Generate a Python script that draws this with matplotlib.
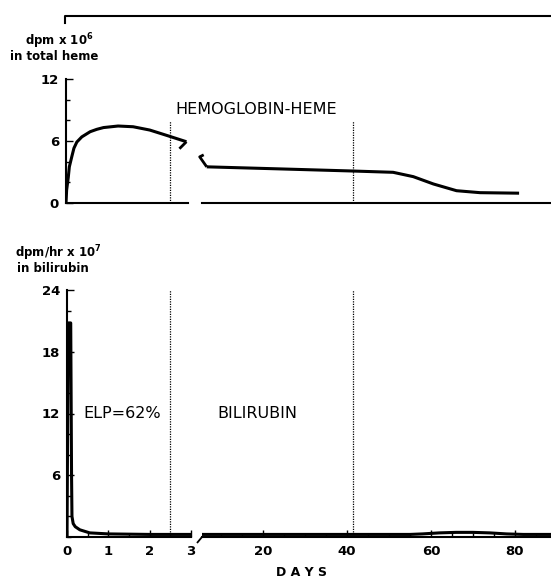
import matplotlib
matplotlib.use("Agg")
import matplotlib.pyplot as plt
from matplotlib.lines import Line2D
from matplotlib.ticker import MultipleLocator, FixedLocator

# hemoglobin-heme, dpm x 10^6 (early days 0-3, late days 5-88)
heme_days_early = [0, 0.015, 0.055, 0.08, 0.14, 0.19, 0.26, 0.38, 0.58, 0.74, 0.9,
                   1.25, 1.61, 2.01, 2.45, 2.89]
heme_early = [0, 1.25, 2.5, 3.5, 4.5, 5.3, 5.9, 6.4, 6.9, 7.13, 7.3,
              7.45, 7.38, 7.06, 6.5, 5.93]
heme_days_late = [6.6, 24, 41, 51, 55.8, 60.6, 66.1, 71.7, 81]
heme_late = [3.5, 3.3, 3.1, 2.97, 2.55, 1.84, 1.19, 1.0, 0.95]

# bilirubin, dpm/hr x 10^7
bili_days_early = [0, 0.03, 0.09, 0.11, 0.12, 0.15, 0.2, 0.31, 0.55, 1.0, 2.0, 3.0]
bili_early = [0, 20.8, 20.8, 6.0, 2.0, 1.3, 1.0, 0.7, 0.4, 0.3, 0.25, 0.25]
bili_days_late = [5.5, 20, 40, 55, 58, 62, 66, 70, 74, 78, 82, 88.6]
bili_late = [0.25, 0.25, 0.25, 0.25, 0.3, 0.4, 0.45, 0.45, 0.4, 0.3, 0.25, 0.25]

phase_days = [2.5, 41.5]

W, H = 551, 578
fig = plt.figure(figsize=(W / 100, H / 100), dpi=100)


def rect(x0, y0, x1, y1):
    # pixel box -> figure fraction
    return [x0 / W, 1 - y1 / H, (x1 - x0) / W, (y1 - y0) / H]


def fig_pt(px, py):
    return px / W, 1 - py / H


ax_tl = fig.add_axes(rect(66, 79, 191, 203))
ax_tr = fig.add_axes(rect(202, 79, 551, 203))
ax_bl = fig.add_axes(rect(67, 290, 191, 537))
ax_br = fig.add_axes(rect(202, 290, 551, 537))

lw_axis = 1.5
lw_curve = 2.2

for ax in (ax_tl, ax_tr, ax_bl, ax_br):
    ax.set_facecolor("none")
    ax.spines["top"].set_visible(False)
    ax.spines["right"].set_visible(False)
    for s in ax.spines.values():
        s.set_linewidth(lw_axis)
    ax.tick_params(which="both", direction="in", width=1.0)
    ax.tick_params(which="major", length=5)
    ax.tick_params(which="minor", length=3)

for ax in (ax_tl, ax_bl):
    ax.set_xlim(0, 3)
for ax in (ax_tr, ax_br):
    ax.set_xlim(5.48, 88.6)
    ax.spines["left"].set_visible(False)
    ax.tick_params(axis="y", which="both", left=False, labelleft=False)

# top panel
for ax in (ax_tl, ax_tr):
    ax.set_ylim(0, 12)
    ax.tick_params(axis="x", which="both", bottom=False, labelbottom=False)
ax_tl.spines["bottom"].set_bounds(0, 2.93)
ax_tl.yaxis.set_major_locator(FixedLocator([0, 6, 12]))
ax_tl.yaxis.set_minor_locator(MultipleLocator(2))
ax_tl.tick_params(axis="y", pad=5)
for lab in ax_tl.get_yticklabels():
    lab.set_fontsize(9.5)
    lab.set_fontweight("bold")

ax_tl.plot(heme_days_early, heme_early, color="black", lw=lw_curve,
           solid_capstyle="butt", solid_joinstyle="round")
ax_tr.plot(heme_days_late, heme_late, color="black", lw=lw_curve,
           solid_capstyle="butt", solid_joinstyle="round")
ax_tl.vlines(phase_days[0], 0, 7.9, colors="black", linestyles=(0, (1, 1)), lw=0.9)
ax_tr.vlines(phase_days[1], 0, 7.9, colors="black", linestyles=(0, (1, 1)), lw=0.9)

# bottom panel
for ax in (ax_bl, ax_br):
    ax.set_ylim(0, 24)
ax_bl.yaxis.set_major_locator(FixedLocator([6, 12, 18, 24]))
ax_bl.yaxis.set_minor_locator(MultipleLocator(2))
ax_bl.xaxis.set_major_locator(FixedLocator([0, 1, 2, 3]))
ax_bl.xaxis.set_minor_locator(MultipleLocator(0.5))
ax_br.xaxis.set_major_locator(FixedLocator([20, 40, 60, 80]))
ax_br.xaxis.set_minor_locator(MultipleLocator(5))
ax_bl.tick_params(axis="y", pad=5)
ax_bl.tick_params(axis="x", pad=6)
ax_br.tick_params(axis="x", pad=6)
for ax in (ax_bl, ax_br):
    for lab in ax.get_xticklabels() + ax.get_yticklabels():
        lab.set_fontsize(9.5)
        lab.set_fontweight("bold")

ax_bl.plot(bili_days_early, bili_early, color="black", lw=lw_curve, solid_joinstyle="round")
ax_br.plot(bili_days_late, bili_late, color="black", lw=lw_curve)
ax_bl.vlines(phase_days[0], 0, 24, colors="black", linestyles=(0, (1, 1)), lw=0.9)
ax_br.vlines(phase_days[1], 0, 24, colors="black", linestyles=(0, (1, 1)), lw=0.9)


def break_mark(ax, xy, offsets, lw=2.0):
    # short stroke drawn in pixel offsets from a data point
    px, py = ax.transData.transform(xy)
    inv = fig.transFigure.inverted()
    pts = [inv.transform((px + dx, py + dy)) for dx, dy in offsets]
    fig.add_artist(Line2D([p[0] for p in pts], [p[1] for p in pts],
                          color="black", lw=lw, solid_capstyle="butt"))


break_mark(ax_tl, (heme_days_early[-1], heme_early[-1]), [(0, 0), (-7, -7)])
break_mark(ax_tr, (heme_days_late[0], heme_late[0]), [(0, 0), (-7, 10), (-3, 12)])
break_mark(ax_br, (5.48, 0), [(0, 0), (-5, -6)], lw=1.3)

# frame line at the top
x0, y0 = fig_pt(65, 16)
x1, y1 = fig_pt(551, 23)
fig.add_artist(Line2D([x0, x0, 1], [y1, y0, y0], color="black", lw=lw_axis))

# texts
plt.rcParams["mathtext.default"] = "bf"
lab_font = dict(fontsize=8.5, fontweight="bold", ha="left", va="baseline")
fig.text(*fig_pt(25, 45), r"dpm x 10$^{6}$", **lab_font)
fig.text(*fig_pt(10, 60), "in total heme", **lab_font)
fig.text(*fig_pt(15, 257), r"dpm/hr x 10$^{7}$", **lab_font)
fig.text(*fig_pt(17, 272), "in bilirubin", **lab_font)

big_font = dict(fontsize=11.5, ha="left", va="center")
fig.text(*fig_pt(175, 110), "HEMOGLOBIN-HEME", **big_font)
fig.text(*fig_pt(83, 413), "ELP=62%", **big_font)
fig.text(*fig_pt(217, 413), "BILIRUBIN", **big_font)
fig.text(*fig_pt(302, 572), "D A Y S", fontsize=9, fontweight="bold", ha="center", va="center")

fig.savefig("out.png", dpi=100)
